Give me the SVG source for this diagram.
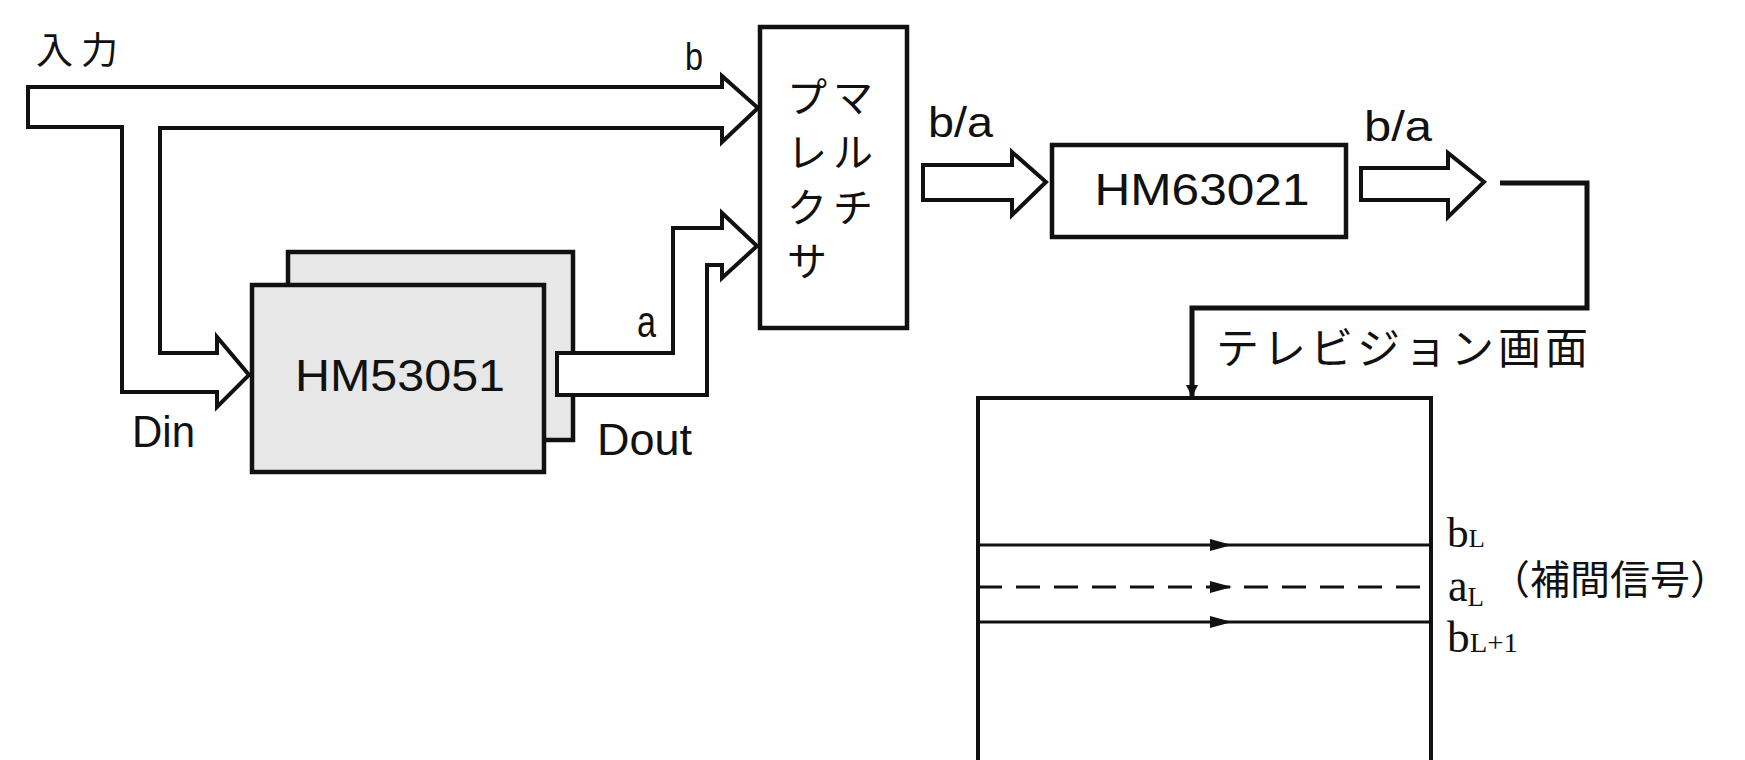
<svg xmlns="http://www.w3.org/2000/svg" width="1745" height="760" viewBox="0 0 1745 760">
  <defs>
    <style>
      .ln{fill:none;stroke:#111;stroke-width:4;stroke-linejoin:miter}
      .band{fill:#fff;stroke:#111;stroke-width:4;stroke-linejoin:miter}
      .box{fill:#fff;stroke:#111;stroke-width:4.5}
      .chip{fill:#e7e7e7;stroke:#111;stroke-width:4.5}
      .scan{fill:none;stroke:#111;stroke-width:3}
      .sans{font-family:"Liberation Sans",Arial,sans-serif;fill:#111}
      .ser{font-family:"Liberation Serif","Times New Roman",serif;fill:#111}
      .jp{font-family:"Noto Sans CJK JP","Noto Sans CJK SC",sans-serif;fill:#111}
    </style>
    <marker id="tri" viewBox="0 0 10 10" refX="10" refY="5" markerWidth="22" markerHeight="12" markerUnits="userSpaceOnUse" orient="auto">
      <path d="M0,0 L10,5 L0,10 z" fill="#111"/>
    </marker>
  </defs>
  <rect width="1745" height="760" fill="#fff"/>

  <g id="hm53051">
    <rect class="chip" x="288" y="252" width="285" height="188"/>
    <rect class="chip" x="252" y="285" width="292" height="187"/>
    <text class="sans" x="400" y="391" font-size="44" text-anchor="middle" textLength="210" lengthAdjust="spacingAndGlyphs">HM53051</text>
  </g>

  <g id="connectors">
    <path class="band" d="M28,87 L722,87 L722,76 L758,108 L722,142 L722,128 L160,128 L160,353 L217,353 L217,337 L249,375 L217,407 L217,392 L122,392 L122,127 L28,127 Z"/>
    <path class="band" d="M557,353 L673,353 L673,228 L722,228 L722,213 L757,246 L722,278 L722,265 L707,265 L707,395 L557,395 Z"/>
    <path class="band" d="M923,165 L1012,165 L1012,152 L1046,182 L1012,215 L1012,200 L923,200 Z"/>
    <path class="band" d="M1361,168 L1448,168 L1448,153 L1484,182 L1448,217 L1448,200 L1361,200 Z"/>
    <path d="M1500,183 L1587,183 L1587,308 L1192,308 L1192,397" fill="none" stroke="#111" stroke-width="5" marker-end="url(#tri)"/>
  </g>

  <g id="multiplexer">
    <rect class="box" x="760" y="27" width="147" height="301"/>
    <g class="jp" font-size="40" text-anchor="middle">
      <text x="853" y="112">マ</text>
      <text x="853" y="167">ル</text>
      <text x="853" y="222">チ</text>
      <text x="807" y="112">プ</text>
      <text x="807" y="167">レ</text>
      <text x="807" y="222">ク</text>
      <text x="807" y="276">サ</text>
    </g>
  </g>

  <g id="hm63021">
    <rect class="box" x="1052" y="145" width="294" height="92"/>
    <text class="sans" x="1202" y="205" font-size="44" text-anchor="middle" textLength="215" lengthAdjust="spacingAndGlyphs">HM63021</text>
  </g>

  <g id="tv-screen">
    <path class="ln" d="M978,780 L978,398 L1431,398 L1431,780"/>
    <line class="scan" x1="978" y1="545" x2="1431" y2="545"/>
    <path d="M1210,539 L1232,545 L1210,551 z" fill="#111"/>
    <line class="scan" x1="978" y1="587" x2="1431" y2="587" stroke-dasharray="24 14"/>
    <path d="M1210,581 L1232,587 L1210,593 z" fill="#111"/>
    <line class="scan" x1="978" y1="622" x2="1431" y2="622"/>
    <path d="M1210,616 L1232,622 L1210,628 z" fill="#111"/>
  </g>

  <g id="labels">
    <text class="jp" x="36" y="64" font-size="37" letter-spacing="8">入力</text>
    <text class="sans" x="685" y="70" font-size="38" textLength="18" lengthAdjust="spacingAndGlyphs">b</text>
    <text class="sans" x="637" y="337" font-size="44" textLength="19" lengthAdjust="spacingAndGlyphs">a</text>
    <text class="sans" x="132" y="447" font-size="44" textLength="63" lengthAdjust="spacingAndGlyphs">Din</text>
    <text class="sans" x="597" y="455" font-size="44" textLength="95" lengthAdjust="spacingAndGlyphs">Dout</text>
    <text class="sans" x="928" y="137" font-size="42" textLength="65" lengthAdjust="spacingAndGlyphs">b/a</text>
    <text class="sans" x="1364" y="141" font-size="42" textLength="68" lengthAdjust="spacingAndGlyphs">b/a</text>
    <text class="jp" x="1216" y="364" font-size="43" letter-spacing="4">テレビジョン画面</text>
    <text class="ser" x="1447" y="547" font-size="42" textLength="38" lengthAdjust="spacingAndGlyphs">b<tspan font-size="26">L</tspan></text>
    <text class="ser" x="1448" y="601" font-size="46" textLength="36" lengthAdjust="spacingAndGlyphs">a<tspan font-size="28" dy="5">L</tspan></text>
    <text class="ser" x="1447" y="652" font-size="44" textLength="71" lengthAdjust="spacingAndGlyphs">b<tspan font-size="28">L+1</tspan></text>
    <text class="jp" x="1490" y="594" font-size="40">（補間信号）</text>
  </g>
</svg>
